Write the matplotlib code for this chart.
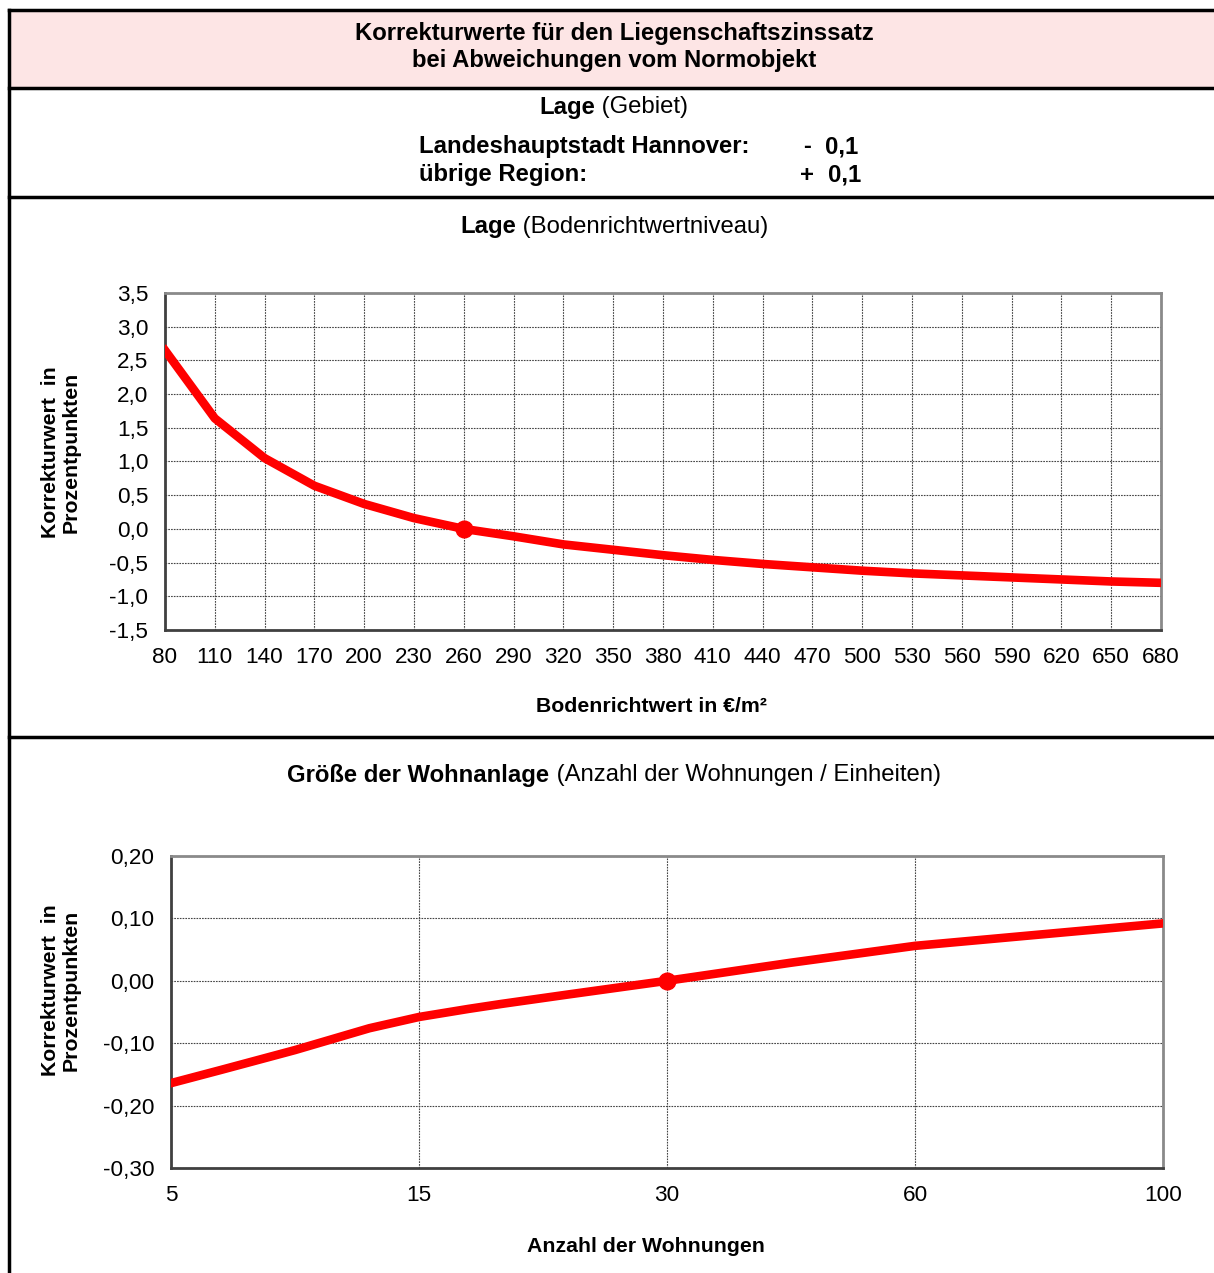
import numpy as np
import matplotlib
matplotlib.use("Agg")
import matplotlib.pyplot as plt
from matplotlib.lines import Line2D
from matplotlib.patches import Rectangle
from matplotlib.ticker import FixedLocator, FuncFormatter

plt.rcParams['font.family'] = ['Liberation Sans', 'DejaVu Sans']

# ---------------- data ----------------
# Chart 1: Lage (Bodenrichtwertniveau)
brw_values = [80, 110, 140, 170, 200, 230, 260, 290, 320, 350, 380, 410, 440,
              470, 500, 530, 560, 590, 620, 650, 680]
brw_korrektur = [2.65, 1.64, 1.05, 0.64, 0.37, 0.16, 0.0, -0.11, -0.23, -0.31,
                 -0.39, -0.46, -0.52, -0.57, -0.62, -0.66, -0.69, -0.72, -0.75,
                 -0.78, -0.80]
brw_norm = 260
brw_yticks = [-1.5, -1.0, -0.5, 0.0, 0.5, 1.0, 1.5, 2.0, 2.5, 3.0, 3.5]

# Chart 2: Größe der Wohnanlage
wohn_categories = [5, 15, 30, 60, 100]
wohn_n = [5, 7, 10, 13, 15, 18, 20, 24, 30, 45, 60, 80, 100]
wohn_korrektur = [-0.164, -0.143, -0.111, -0.076, -0.058, -0.045, -0.037, -0.022, 0.0,
                  0.029, 0.056, 0.074, 0.092]
wohn_norm = 30
wohn_yticks = [-0.30, -0.20, -0.10, 0.0, 0.10, 0.20]

# ---------------- figure ----------------
W, H = 1214, 1273
fig = plt.figure(figsize=(W / 100, H / 100), dpi=100)

def fx(px):
    return px / W

def fy(py):
    return 1 - py / H

RED = '#FF0000'
BORDER_LW = 2.5

# header background
fig.patches.append(Rectangle((fx(8.5), fy(87.5)), fx(W) - fx(8.5), fy(9.5) - fy(87.5),
                             transform=fig.transFigure, facecolor='#FDE5E5',
                             edgecolor='none', zorder=0))
# frame lines
for yy in [9.5, 87.5, 197, 737]:
    fig.lines.append(Line2D([fx(8.5), 1.0], [fy(yy), fy(yy)], transform=fig.transFigure,
                            color='black', lw=BORDER_LW, solid_capstyle='projecting'))
fig.lines.append(Line2D([fx(8.5), fx(8.5)], [fy(9.5), 0.0], transform=fig.transFigure,
                        color='black', lw=BORDER_LW, solid_capstyle='projecting'))

TS = 17.2

fig.text(fx(614), fy(33.5), 'Korrekturwerte für den Liegenschaftszinssatz', ha='center',
         va='center', fontsize=TS, fontweight='bold')
fig.text(fx(614), fy(60.5), 'bei Abweichungen vom Normobjekt', ha='center', va='center',
         fontsize=TS, fontweight='bold')

def mixed_title(cx, cy, bold, normal, size=TS):
    t1 = fig.text(0, fy(cy), bold, ha='left', va='center', fontsize=size, fontweight='bold')
    t2 = fig.text(0, fy(cy), normal, ha='left', va='center', fontsize=size)
    fig.canvas.draw()
    r = fig.canvas.get_renderer()
    w1 = t1.get_window_extent(r).width
    w2 = t2.get_window_extent(r).width
    x0 = cx - (w1 + w2) / 2
    t1.set_x(fx(x0))
    t2.set_x(fx(x0 + w1))

mixed_title(614, 107.5, 'Lage', '\u00a0(Gebiet)')
mixed_title(614, 226.5, 'Lage', '\u00a0(Bodenrichtwertniveau)')
mixed_title(614, 775.5, 'Größe der Wohnanlage', '\u00a0(Anzahl der Wohnungen / Einheiten)')

fig.text(fx(419), fy(147), 'Landeshauptstadt Hannover:', ha='left', va='center',
         fontsize=TS, fontweight='bold')
fig.text(fx(419), fy(175), 'übrige Region:', ha='left', va='center',
         fontsize=TS, fontweight='bold')
fig.text(fx(803), fy(147), '-', ha='left', va='center', fontsize=TS, fontweight='bold')
fig.text(fx(825), fy(147), '0,1', ha='left', va='center', fontsize=TS, fontweight='bold')
fig.text(fx(800), fy(175), '+', ha='left', va='center', fontsize=TS, fontweight='bold')
fig.text(fx(828), fy(175), '0,1', ha='left', va='center', fontsize=TS, fontweight='bold')

TICK_FS = 16.2
LBL_FS = 15.3

def style_axes(ax):
    for s in ['top', 'right']:
        ax.spines[s].set_color('#8a8a8a')
        ax.spines[s].set_linewidth(2)
    for s in ['left', 'bottom']:
        ax.spines[s].set_color('#404040')
        ax.spines[s].set_linewidth(2)
    ax.grid(True, color='#444444', linestyle=(0, (1.5, 1.0)), linewidth=0.8)
    ax.set_axisbelow(True)
    ax.tick_params(length=0, labelsize=TICK_FS, pad=12)

# ---- chart 1 ----
ax1 = fig.add_axes([fx(165), fy(630), fx(1161) - fx(165), fy(293) - fy(630)])
ax1.plot(brw_values, brw_korrektur, color=RED, lw=6.2, solid_joinstyle='round', zorder=3)
ax1.plot([brw_norm], [brw_korrektur[brw_values.index(brw_norm)]], 'o', color=RED,
         ms=12, zorder=4)
ax1.set_xlim(brw_values[0], brw_values[-1])
ax1.set_ylim(brw_yticks[0], brw_yticks[-1])
ax1.xaxis.set_major_locator(FixedLocator(brw_values))
ax1.yaxis.set_major_locator(FixedLocator(brw_yticks))
ax1.yaxis.set_major_formatter(FuncFormatter(lambda v, p: f'{v:.1f}'.replace('.', ',')))
style_axes(ax1)

fig.text(fx(651), fy(706), 'Bodenrichtwert in €/m²', ha='center', va='center',
         fontsize=LBL_FS, fontweight='bold')
fig.text(fx(61), fy(452), 'Korrekturwert  in\nProzentpunkten', ha='center', va='center',
         rotation=90, fontsize=LBL_FS, fontweight='bold', linespacing=1.1)

# ---- chart 2 ----
cat_pos = np.arange(len(wohn_categories))
def n_to_pos(n):
    return np.interp(n, wohn_categories, cat_pos)

ax2 = fig.add_axes([fx(171), fy(1168), fx(1163) - fx(171), fy(856) - fy(1168)])
ax2.plot(n_to_pos(wohn_n), wohn_korrektur, color=RED, lw=6.2, solid_joinstyle='round',
         zorder=3)
ax2.plot([n_to_pos(wohn_norm)], [wohn_korrektur[wohn_n.index(wohn_norm)]], 'o',
         color=RED, ms=12, zorder=4)
ax2.set_xlim(cat_pos[0], cat_pos[-1])
ax2.set_ylim(wohn_yticks[0], wohn_yticks[-1])
ax2.xaxis.set_major_locator(FixedLocator(cat_pos))
ax2.set_xticklabels([str(c) for c in wohn_categories])
ax2.yaxis.set_major_locator(FixedLocator(wohn_yticks))
ax2.yaxis.set_major_formatter(FuncFormatter(lambda v, p: f'{v:.2f}'.replace('.', ',')))
style_axes(ax2)

fig.text(fx(646), fy(1247), 'Anzahl der Wohnungen', ha='center', va='center',
         fontsize=LBL_FS, fontweight='bold')
fig.text(fx(61), fy(990), 'Korrekturwert  in\nProzentpunkten', ha='center', va='center',
         rotation=90, fontsize=LBL_FS, fontweight='bold', linespacing=1.1)

fig.savefig('out.png', dpi=100)
